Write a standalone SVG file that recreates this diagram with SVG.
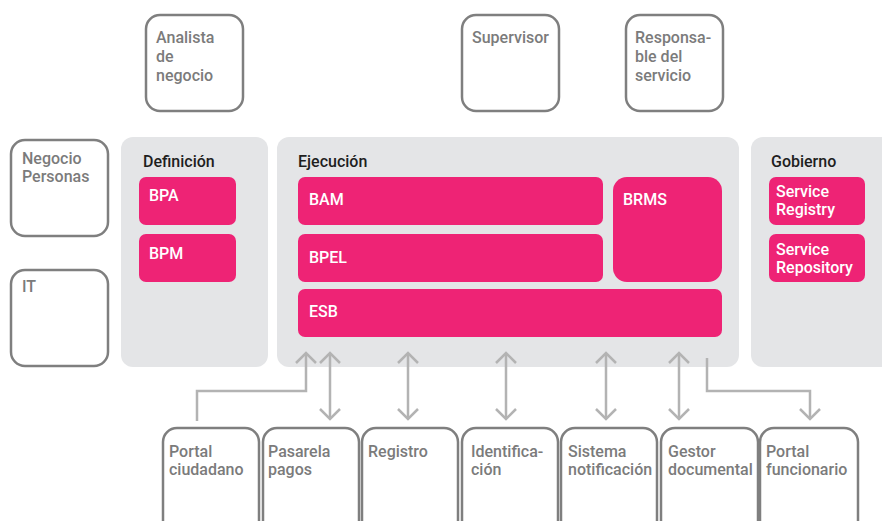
<svg xmlns="http://www.w3.org/2000/svg" width="882" height="521" viewBox="0 0 882 521">
  <style>
    .actor { fill: #ffffff; stroke: #7f7f7f; stroke-width: 2.5; }
    .panel { fill: #e4e5e7; }
    .comp { fill: #ee2375; }
    .lbl { font-family: Roboto, "Liberation Sans", sans-serif; font-size: 16px; font-weight: 500; fill: #7b7b7b; }
    .title { font-family: Roboto, "Liberation Sans", sans-serif; font-size: 16px; font-weight: 500; fill: #1e1e1e; }
    .ctext { font-family: Roboto, "Liberation Sans", sans-serif; font-size: 16px; font-weight: 500; fill: #ffffff; }
    .link { fill: none; stroke: #b3b3b3; stroke-width: 2.5; }
  </style>
  <defs>
    <!-- open chevron arrowhead, tip at the path end -->
    <marker id="chev" viewBox="0 0 14 24" refX="12" refY="12" markerWidth="14" markerHeight="24" markerUnits="userSpaceOnUse" orient="auto-start-reverse">
      <path d="M2 2 L12 12 L2 22" fill="none" stroke="#b3b3b3" stroke-width="2.5"/>
    </marker>
  </defs>

  <!-- roles -->
  <g id="analista">
    <rect class="actor" x="146" y="15" width="97" height="96" rx="14"/>
    <text class="lbl" x="156" y="43">Analista</text>
    <text class="lbl" x="156" y="62">de</text>
    <text class="lbl" x="156" y="81">negocio</text>
  </g>
  <g id="supervisor">
    <rect class="actor" x="462" y="15" width="97" height="96" rx="14"/>
    <text class="lbl" x="472" y="43">Supervisor</text>
  </g>
  <g id="responsable">
    <rect class="actor" x="626" y="15" width="97" height="96" rx="14"/>
    <text class="lbl" x="635" y="43">Responsa-</text>
    <text class="lbl" x="635" y="62">ble del</text>
    <text class="lbl" x="635" y="81">servicio</text>
  </g>
  <g id="negocio">
    <rect class="actor" x="11" y="140" width="97" height="96" rx="14"/>
    <text class="lbl" x="22" y="164">Negocio</text>
    <text class="lbl" x="22" y="182">Personas</text>
  </g>
  <g id="it">
    <rect class="actor" x="11" y="270" width="97" height="96" rx="14"/>
    <text class="lbl" x="22" y="292">IT</text>
  </g>

  <!-- Definición -->
  <g id="definicion">
    <rect class="panel" x="121" y="137" width="147" height="230" rx="12"/>
    <text class="title" x="143" y="167">Definición</text>
    <g id="bpa">
      <rect class="comp" x="139" y="177" width="97" height="48" rx="7"/>
      <text class="ctext" x="149" y="201">BPA</text>
    </g>
    <g id="bpm">
      <rect class="comp" x="139" y="234" width="97" height="48" rx="7"/>
      <text class="ctext" x="149" y="259">BPM</text>
    </g>
  </g>

  <!-- Ejecución -->
  <g id="ejecucion">
    <rect class="panel" x="277" y="137" width="462" height="230" rx="12"/>
    <text class="title" x="298" y="167">Ejecución</text>
    <g id="bam">
      <rect class="comp" x="298" y="177" width="305" height="48" rx="7"/>
      <text class="ctext" x="309" y="205">BAM</text>
    </g>
    <g id="bpel">
      <rect class="comp" x="298" y="234" width="305" height="48" rx="7"/>
      <text class="ctext" x="309" y="263">BPEL</text>
    </g>
    <g id="brms">
      <rect class="comp" x="613" y="177" width="109" height="105" rx="14"/>
      <text class="ctext" x="623" y="205">BRMS</text>
    </g>
    <g id="esb">
      <rect class="comp" x="298" y="289" width="424" height="48" rx="7"/>
      <text class="ctext" x="309" y="317">ESB</text>
    </g>
  </g>

  <!-- Gobierno -->
  <g id="gobierno">
    <rect class="panel" x="751" y="137" width="150" height="230" rx="12"/>
    <text class="title" x="771" y="167">Gobierno</text>
    <g id="registry">
      <rect class="comp" x="769" y="177" width="96" height="48" rx="7"/>
      <text class="ctext" x="776" y="197">Service</text>
      <text class="ctext" x="776" y="215">Registry</text>
    </g>
    <g id="repository">
      <rect class="comp" x="769" y="234" width="96" height="48" rx="7"/>
      <text class="ctext" x="776" y="255">Service</text>
      <text class="ctext" x="776" y="273">Repository</text>
    </g>
  </g>

  <!-- external systems -->
  <g id="portal-ciudadano">
    <rect class="actor" x="163" y="428" width="96" height="110" rx="14"/>
    <text class="lbl" x="169" y="457">Portal</text>
    <text class="lbl" x="169" y="475">ciudadano</text>
  </g>
  <g id="pasarela">
    <rect class="actor" x="263" y="428" width="96" height="110" rx="14"/>
    <text class="lbl" x="268" y="457">Pasarela</text>
    <text class="lbl" x="268" y="475">pagos</text>
  </g>
  <g id="registro">
    <rect class="actor" x="362" y="428" width="96" height="110" rx="14"/>
    <text class="lbl" x="368" y="457">Registro</text>
  </g>
  <g id="identificacion">
    <rect class="actor" x="462" y="428" width="96" height="110" rx="14"/>
    <text class="lbl" x="471" y="457">Identifica-</text>
    <text class="lbl" x="471" y="475">ción</text>
  </g>
  <g id="sistema">
    <rect class="actor" x="561" y="428" width="96" height="110" rx="14"/>
    <text class="lbl" x="568" y="457">Sistema</text>
    <text class="lbl" x="568" y="475">notificación</text>
  </g>
  <g id="gestor">
    <rect class="actor" x="661" y="428" width="97" height="110" rx="14"/>
    <text class="lbl" x="668" y="457">Gestor</text>
    <text class="lbl" x="668" y="475">documental</text>
  </g>
  <g id="portal-funcionario">
    <rect class="actor" x="760" y="428" width="98" height="110" rx="14"/>
    <text class="lbl" x="766" y="457">Portal</text>
    <text class="lbl" x="766" y="475">funcionario</text>
  </g>

  <!-- connectors -->
  <g id="connectors">
    <path class="link" d="M197 421 V391 H306 V353" marker-end="url(#chev)"/>
    <path class="link" d="M330 353 V419" marker-start="url(#chev)" marker-end="url(#chev)"/>
    <path class="link" d="M408 353 V419" marker-start="url(#chev)" marker-end="url(#chev)"/>
    <path class="link" d="M506 353 V419" marker-start="url(#chev)" marker-end="url(#chev)"/>
    <path class="link" d="M606 353 V419" marker-start="url(#chev)" marker-end="url(#chev)"/>
    <path class="link" d="M679 353 V419" marker-start="url(#chev)" marker-end="url(#chev)"/>
    <path class="link" d="M707 358 V391 H810 V419" marker-end="url(#chev)"/>
  </g>
</svg>
